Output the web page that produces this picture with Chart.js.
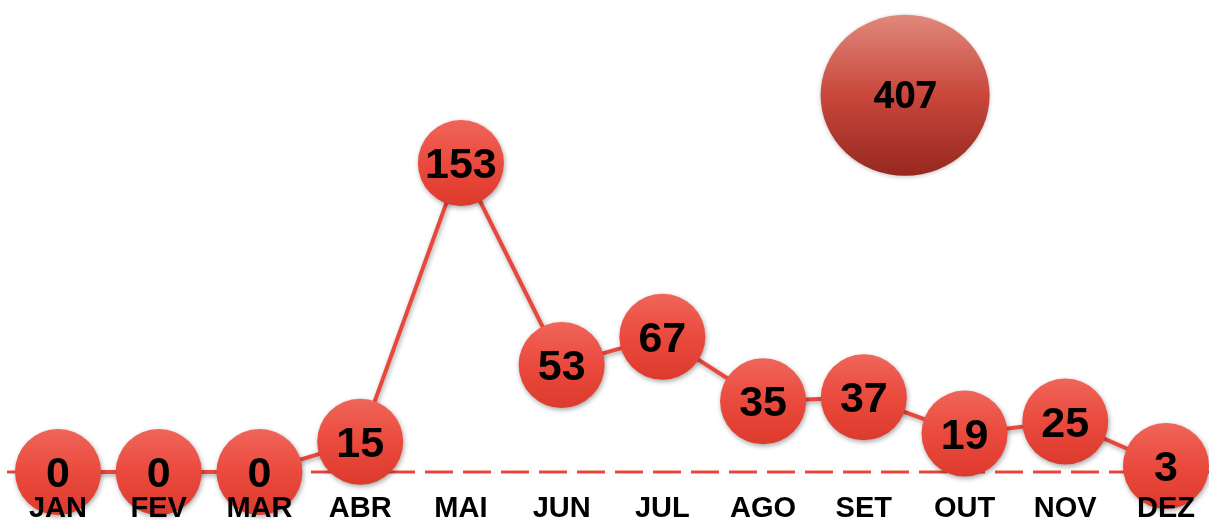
<!DOCTYPE html>
<html>
<head>
<meta charset="utf-8">
<script src="https://cdn.jsdelivr.net/npm/chart.js@4.4.1/dist/chart.umd.min.js"></script>
<style>
  html, body { margin: 0; padding: 0; background: #ffffff; }
  #wrap { width: 1209px; height: 520px; position: relative; }
</style>
</head>
<body>
<div id="wrap"><canvas id="grafico"></canvas></div>
<script>
// dados
const meses = ["JAN", "FEV", "MAR", "ABR", "MAI", "JUN", "JUL", "AGO", "SET", "OUT", "NOV", "DEZ"];
const casos = [0, 0, 0, 15, 153, 53, 67, 35, 37, 19, 25, 3];
const total = 407;

const vermelho = "#e8483b";

function bolaGradiente(ctx) {
    const chart = ctx.chart;
    const y = chart.scales && chart.scales.y;
    if (!y || ctx.parsed == null) return vermelho;
    const cy = y.getPixelForValue(ctx.parsed.y);
    if (!isFinite(cy)) return vermelho;
    const g = chart.ctx.createLinearGradient(0, cy - 43, 0, cy + 43);
    g.addColorStop(0, "#f0655a");
    g.addColorStop(0.5, "#ea4a3d");
    g.addColorStop(1, "#dc3a2d");
    return g;
}

// linha tracejada no zero
const linhaZero = {
    id: "linhaZero",
    beforeDatasetsDraw(chart) {
        const c = chart.ctx;
        const y0 = chart.scales.y.getPixelForValue(0);
        c.save();
        c.strokeStyle = vermelho;
        c.lineWidth = 3;
        c.setLineDash([28, 10]);
        c.beginPath();
        c.moveTo(7, y0);
        c.lineTo(chart.width, y0);
        c.stroke();
        c.restore();
    }
};

// sombra nas bolas
const sombra = {
    id: "sombra",
    beforeDatasetDraw(chart) {
        const c = chart.ctx;
        c.save();
        c.shadowColor = "rgba(0,0,0,0.35)";
        c.shadowBlur = 5;
        c.shadowOffsetX = 1;
        c.shadowOffsetY = 2;
    },
    afterDatasetDraw(chart) {
        chart.ctx.restore();
    }
};

// numeros, meses e bola do total
const rotulos = {
    id: "rotulos",
    afterDatasetsDraw(chart) {
        const c = chart.ctx;
        const meta = chart.getDatasetMeta(0);
        const xs = chart.scales.x;
        const y0 = chart.scales.y.getPixelForValue(0);
        c.save();
        c.fillStyle = "#000";
        c.textAlign = "center";
        c.textBaseline = "alphabetic";

        c.font = "bold 43px 'Liberation Sans', Arial, sans-serif";
        meta.data.forEach((p, i) => {
            c.fillText(String(casos[i]), p.x, p.y + 15);
        });

        c.font = "bold 29px 'Liberation Sans', Arial, sans-serif";
        meses.forEach((m, i) => {
            c.fillText(m, xs.getPixelForValue(i), y0 + 45);
        });

        // total
        const passo = xs.getPixelForValue(9) - xs.getPixelForValue(8);
        const tx = xs.getPixelForValue(8) + passo * 0.41;
        const ty = chart.scales.y.getPixelForValue(186.5);
        const g = c.createLinearGradient(0, ty - 80, 0, ty + 80);
        g.addColorStop(0, "#e0887c");
        g.addColorStop(0.5, "#c9473b");
        g.addColorStop(1, "#962820");
        c.shadowColor = "rgba(0,0,0,0.25)";
        c.shadowBlur = 4;
        c.shadowOffsetY = 1;
        c.fillStyle = g;
        c.beginPath();
        c.ellipse(tx, ty, 84.5, 80.5, 0, 0, Math.PI * 2);
        c.fill();
        c.shadowColor = "transparent";
        c.fillStyle = "#000";
        c.font = "bold 37px 'Open Sans', 'DejaVu Sans', sans-serif";
        c.fillText(String(total), tx, ty + 13);
        c.restore();
    }
};

const config = {
    type: "line",
    data: {
        labels: meses,
        datasets: [{
            label: "Casos",
            data: casos,
            borderColor: vermelho,
            borderWidth: 4,
            pointRadius: 43,
            pointHoverRadius: 43,
            pointBorderWidth: 0,
            pointBackgroundColor: bolaGradiente,
            tension: 0,
            clip: false
        }]
    },
    options: {
        responsive: true,
        maintainAspectRatio: false,
        animation: false,
        events: [],
        layout: {
            padding: { left: 58, right: 39, top: 68, bottom: 48 }
        },
        plugins: {
            legend: { display: false },
            tooltip: { enabled: false }
        },
        scales: {
            x: {
                display: false,
                offset: false
            },
            y: {
                display: false,
                min: 0,
                max: 200
            }
        }
    },
    plugins: [linhaZero, sombra, rotulos]
};

const grafico = new Chart(document.getElementById("grafico"), config);
</script>
</body>
</html>
